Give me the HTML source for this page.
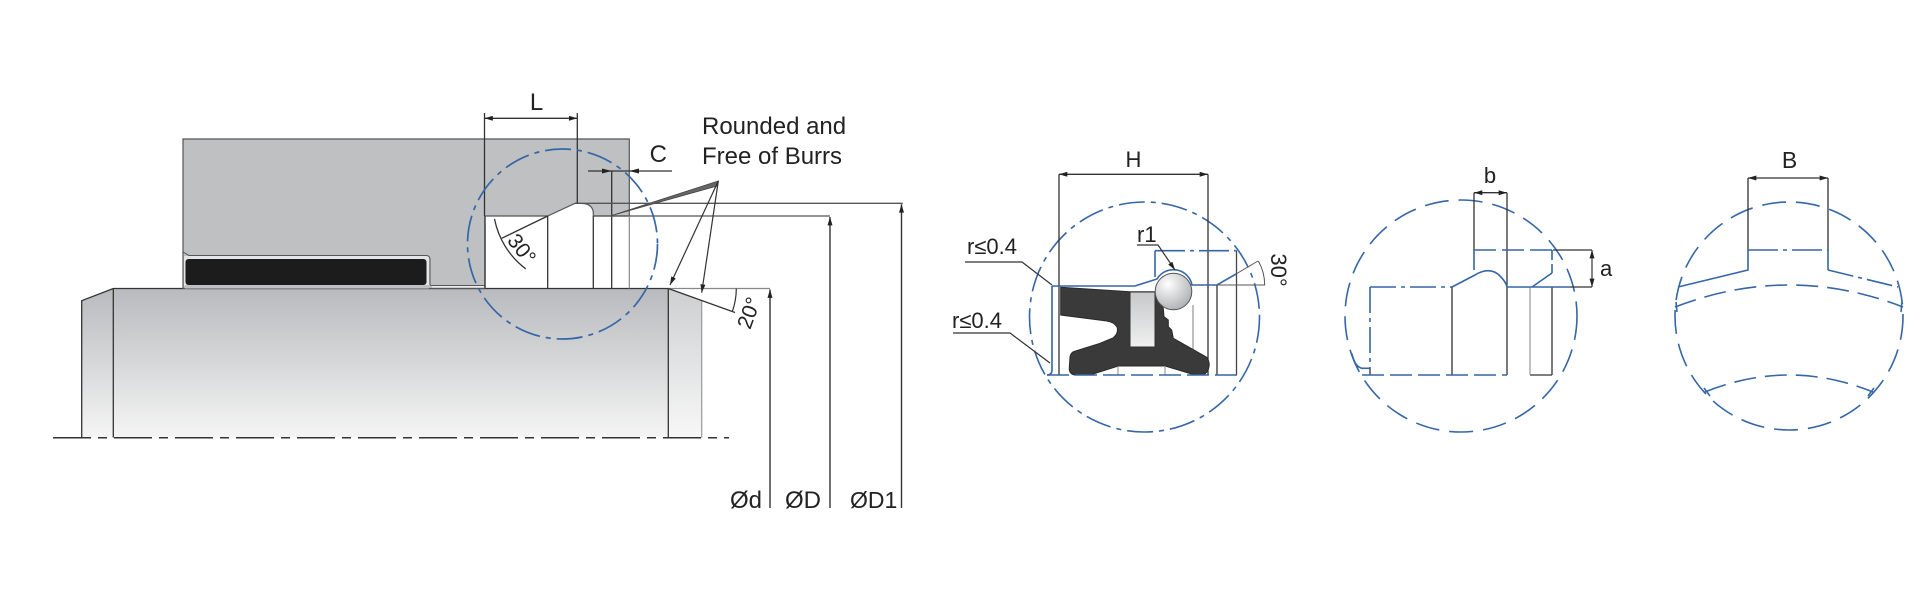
<!DOCTYPE html>
<html><head><meta charset="utf-8"><style>
html,body{margin:0;padding:0;background:#fff;width:1920px;height:600px;overflow:hidden}
svg{display:block}
text{font-family:"Liberation Sans",Arial,sans-serif;fill:#222}
</style></head><body>
<svg width="1920" height="600" viewBox="0 0 1920 600" xmlns="http://www.w3.org/2000/svg">
<defs>
<marker id="ar" viewBox="0 0 10 6" refX="10" refY="3" markerWidth="9" markerHeight="5" markerUnits="userSpaceOnUse" orient="auto-start-reverse"><path d="M0,0L10,3L0,6z" fill="#222"/></marker>
<linearGradient id="rod" x1="0" y1="0" x2="0" y2="1"><stop offset="0" stop-color="#b8babd"/><stop offset="1" stop-color="#f5f5f5"/></linearGradient>
<linearGradient id="rodc" x1="0" y1="0" x2="0" y2="1"><stop offset="0" stop-color="#cdcfd1"/><stop offset="1" stop-color="#f7f7f7"/></linearGradient>
<linearGradient id="ins" x1="0" y1="0" x2="0" y2="1"><stop offset="0" stop-color="#c6c8ca"/><stop offset="1" stop-color="#f0f0f0"/></linearGradient>
<radialGradient id="ball" cx="0.35" cy="0.3" r="0.8"><stop offset="0" stop-color="#ffffff"/><stop offset="1" stop-color="#a8aaad"/></radialGradient>
</defs>

<!-- ============ LEFT DRAWING ============ -->
<!-- rod -->
<rect x="113.3" y="288.5" width="555" height="149" fill="url(#rod)"/>
<polygon points="81.7,300.7 113.3,288.5 113.3,437.5 81.7,437.5" fill="url(#rod)"/>
<polygon points="668.3,288.5 701.7,300.7 701.7,437.5 668.3,437.5" fill="url(#rodc)"/>
<g stroke="#333" stroke-width="1.3" fill="none">
<path d="M81.7,437.5 V300.7 L113.3,288.5 H668.3"/>
<path d="M113.3,288.5 V437.5"/>
<path d="M668.3,288.5 V437.5"/>
</g>
<path d="M701.7,300.7 V437.5" stroke="#999" stroke-width="1.2"/>

<!-- housing -->
<path d="M183,139 H629.3 V216 H593.3 V212 Q592,204 583,203.5 L575,203.3 L547.7,216 H485 V288.5 H183 Z" fill="#bec0c2" stroke="#555" stroke-width="1.2"/>
<!-- seal groove in housing -->
<rect x="184" y="256" width="245" height="30" fill="#e4e5e6"/>
<path d="M183,252 L189,255.5 H426 Q430,255.5 430,259.5 V284 Q430,285.5 432,285.5 H485" fill="none" stroke="#555" stroke-width="1"/>
<rect x="185.5" y="259" width="241" height="26" rx="3" fill="#1c1c1c"/>
<rect x="185" y="285" width="244" height="3.5" fill="#bec0c2"/>
<line x1="432" y1="286.8" x2="484" y2="286.8" stroke="#f4f4f4" stroke-width="1.4"/>

<!-- groove lines -->
<g stroke="#333" stroke-width="1.3" fill="none">
<path d="M485,216 V288.5"/>
<path d="M547.7,216 V288.5"/>
<path d="M593.3,216 V288.5"/>
<path d="M611.7,171 V288.5"/>
<path d="M547.7,216 L501.7,238.3"/>
<path d="M494.5,218.9 A82,82 0 0 0 525.7,268.8"/>
<path d="M575,203.3 H902.7" stroke="#555"/>
<path d="M593.3,216 H830" stroke="#555"/>
<path d="M484.5,113 V216"/>
<path d="M577.3,113 V203.3"/>
</g>
<path d="M629.3,216 V288.5" stroke="#888" stroke-width="1.2"/>
<path d="M668.3,288.5 H770" stroke="#888" stroke-width="1.2"/>

<!-- 20 deg -->
<g stroke="#333" stroke-width="1.2" fill="none">
<path d="M668.3,288.5 L735,312.5"/>
<path d="M736.3,288.5 A68,68 0 0 1 732.2,311.8"/>
</g>

<!-- dimension verticals -->
<g stroke="#333" stroke-width="1.4" fill="none">
<line x1="770" y1="508" x2="770" y2="289.5" marker-end="url(#ar)"/>
<line x1="830" y1="508" x2="830" y2="217" marker-end="url(#ar)"/>
<line x1="901.5" y1="508" x2="901.5" y2="204.3" marker-end="url(#ar)"/>
</g>

<!-- L dimension -->
<line x1="484.5" y1="118.3" x2="577.3" y2="118.3" stroke="#333" stroke-width="1.3" marker-start="url(#ar)" marker-end="url(#ar)"/>
<!-- C dimension -->
<line x1="588" y1="171" x2="672" y2="171" stroke="#333" stroke-width="1.2"/>
<polygon points="611.7,171 602,168.5 602,173.5" fill="#222"/>
<polygon points="629.3,171 639,168.5 639,173.5" fill="#222"/>

<!-- leaders from note -->
<polygon points="718.3,181 611.7,215.5 717,186" fill="#666" stroke="#444" stroke-width="0.8"/>
<line x1="718.3" y1="181" x2="670" y2="285" stroke="#333" stroke-width="1.2" marker-end="url(#ar)"/>
<line x1="718.3" y1="181" x2="701.7" y2="292.7" stroke="#333" stroke-width="1.2" marker-end="url(#ar)"/>

<!-- centerline -->
<line x1="53" y1="437.7" x2="729" y2="437.7" stroke="#333" stroke-width="1.5" stroke-dasharray="38 7 9 7"/>

<!-- blue detail circle -->
<circle cx="562.5" cy="244" r="95" fill="none" stroke="#3566a6" stroke-width="1.7" stroke-dasharray="26 6 5 6"/>

<!-- left texts -->
<text x="536.5" y="110" font-size="24" text-anchor="middle">L</text>
<text x="658.3" y="162" font-size="24" text-anchor="middle">C</text>
<text x="702" y="134" font-size="24">Rounded and</text>
<text x="702" y="164" font-size="24">Free of Burrs</text>
<text x="730" y="508" font-size="24">Ød</text>
<text x="785" y="508" font-size="24">ØD</text>
<text x="850" y="508" font-size="23">ØD1</text>
<text transform="translate(521.7,249) rotate(52)" y="7" font-size="21" text-anchor="middle">30°</text>
<text transform="translate(749,313) rotate(-70)" y="7" font-size="21" text-anchor="middle">20°</text>

<!-- ============ DETAIL 1 (H) ============ -->
<circle cx="1144.5" cy="317" r="115" fill="none" stroke="#3566a6" stroke-width="1.6" stroke-dasharray="26 6 5 6"/>
<line x1="1059" y1="174.3" x2="1208" y2="174.3" stroke="#333" stroke-width="1.3" marker-start="url(#ar)" marker-end="url(#ar)"/>
<g stroke="#333" stroke-width="1.3" fill="none">
<path d="M1059,174.3 V375"/>
<path d="M1208,174.3 V375"/>
<path d="M1217,285 V375"/>
<path d="M1236.5,250.7 V375" stroke="#444"/>
</g>
<path d="M1193,305 V375" stroke="#888" stroke-width="1.1"/>

<!-- seal body -->
<path d="M1060.7,287.3 L1130,291.7 L1155,291.7 L1158.3,293.3 L1163.3,308.3 L1164,316.7 L1168.3,320 L1168.3,326.7 L1171.7,330 L1173.3,338.3 L1206.7,357.3 Q1210,362 1209,366.7 Q1208,373 1203,375 L1195,375 L1165,366 L1118.3,366 L1090,375 L1075,375 Q1069,374 1069.3,368 L1070,356.7 Q1071,352.5 1074,351.5 L1100,343.3 L1113,338 Q1119,333 1117,327 Q1114,322 1106.7,321 L1060.7,315 Z" fill="#3a3a3a" stroke="#2a2a2a" stroke-width="1"/>
<rect x="1130" y="292" width="25" height="55" fill="url(#ins)" stroke="#333" stroke-width="1"/>
<g stroke="#888" stroke-width="1"><path d="M1118,366 V375"/><path d="M1165,366 V375"/></g>
<circle cx="1173.5" cy="291.5" r="18.3" fill="url(#ball)" stroke="#555" stroke-width="1"/>

<!-- blue groove lines -->
<g stroke="#3566a6" stroke-width="1.6" fill="none">
<path d="M1052,286 V370 Q1052,375 1047,375"/>
<path d="M1052,286 H1135 L1157,279 A19,19 0 0 1 1192,285 H1217 L1236,274"/>
<path d="M1155,277 V250.7"/>
<path d="M1155,250.7 H1236.5" stroke-dasharray="30 5 4 5"/>
<path d="M1047,375 H1237" stroke-dasharray="22 6"/>
</g>
<g stroke="#555" stroke-width="1" fill="none">
<path d="M1236,274 L1258,261"/>
<path d="M1217,285 H1265"/>
<path d="M1258.3,261 A48,48 0 0 1 1264.7,285"/>
</g>
<!-- leaders -->
<path d="M965,262 H1022 L1052,285" fill="none" stroke="#333" stroke-width="1.2"/>
<path d="M953,333 H1010 L1050,363" fill="none" stroke="#333" stroke-width="1.2"/>
<path d="M1137,245 H1158 L1175,270" fill="none" stroke="#333" stroke-width="1.2" marker-end="url(#ar)"/>
<text x="1133.5" y="167" font-size="22" text-anchor="middle">H</text>
<text x="967" y="254" font-size="22">r≤0.4</text>
<text x="952" y="328" font-size="22">r≤0.4</text>
<text x="1137" y="242" font-size="22">r1</text>
<text transform="translate(1279,270) rotate(90)" y="8" font-size="22" text-anchor="middle">30°</text>

<!-- ============ DETAIL 2 (b, a) ============ -->
<circle cx="1461" cy="316" r="116" fill="none" stroke="#3566a6" stroke-width="1.6" stroke-dasharray="24 10"/>
<line x1="1474" y1="192.7" x2="1507" y2="192.7" stroke="#333" stroke-width="1.3" marker-start="url(#ar)" marker-end="url(#ar)"/>
<g stroke="#333" stroke-width="1.3" fill="none">
<path d="M1474,192.7 V250"/>
<path d="M1507,192.7 V375"/>
<path d="M1452,287 V375"/>
<path d="M1552,287 V375"/>
<path d="M1530,375 H1552"/>
<path d="M1553,250 H1592"/>
<path d="M1570,287 H1592"/>
<path d="M1370,368 V375"/>
</g>
<path d="M1530,287 V375" stroke="#999" stroke-width="1.2"/>
<line x1="1592" y1="250" x2="1592" y2="287" stroke="#333" stroke-width="1.2" marker-start="url(#ar)" marker-end="url(#ar)"/>
<g stroke="#3566a6" stroke-width="1.6" fill="none">
<path d="M1474,250 V270"/>
<path d="M1474,250 H1553" stroke-dasharray="22 6"/>
<path d="M1452,287 L1475,275 Q1490,266 1500,276 Q1506,282 1507,287 H1570"/>
<path d="M1532,287 L1552,273"/>
<path d="M1552,250 V273" stroke-dasharray="10 4"/>
<path d="M1370,287 H1452" stroke-dasharray="26 5 4 5"/>
<path d="M1370,287 V368" stroke-dasharray="26 5 4 5"/>
<path d="M1351.7,353.3 Q1355,367 1362,368.3 H1370"/>
<path d="M1362,375 H1507" stroke-dasharray="22 6"/>
</g>
<text x="1490" y="183" font-size="22" text-anchor="middle">b</text>
<text x="1600" y="276" font-size="22">a</text>

<!-- ============ DETAIL 3 (B) ============ -->
<circle cx="1789" cy="316" r="114" fill="none" stroke="#3566a6" stroke-width="1.6" stroke-dasharray="24 10"/>
<line x1="1748" y1="178" x2="1828" y2="178" stroke="#333" stroke-width="1.3" marker-start="url(#ar)" marker-end="url(#ar)"/>
<g stroke="#333" stroke-width="1.3" fill="none">
<path d="M1748,178 V250"/>
<path d="M1828,178 V250"/>
</g>
<g stroke="#3566a6" stroke-width="1.6" fill="none">
<path d="M1748,250 H1828" stroke-dasharray="30 5 4 5"/>
<path d="M1748,250 V270 L1678,287"/>
<path d="M1828,250 V270"/>
<path d="M1828,270 L1898,287" stroke-dasharray="26 5 4 5"/>
<path d="M1675,307 Q1789,263 1903,307" stroke-dasharray="22 9"/>
<path d="M1676,302 L1677,312"/>
<path d="M1902,302 L1901,312"/>
<path d="M1705,392 Q1789,358 1873,392" stroke-dasharray="22 9"/>
<path d="M1704,388 L1710,396"/>
<path d="M1874,388 L1868,396"/>
</g>
<text x="1789.5" y="168" font-size="23" text-anchor="middle">B</text>
</svg>
</body></html>
